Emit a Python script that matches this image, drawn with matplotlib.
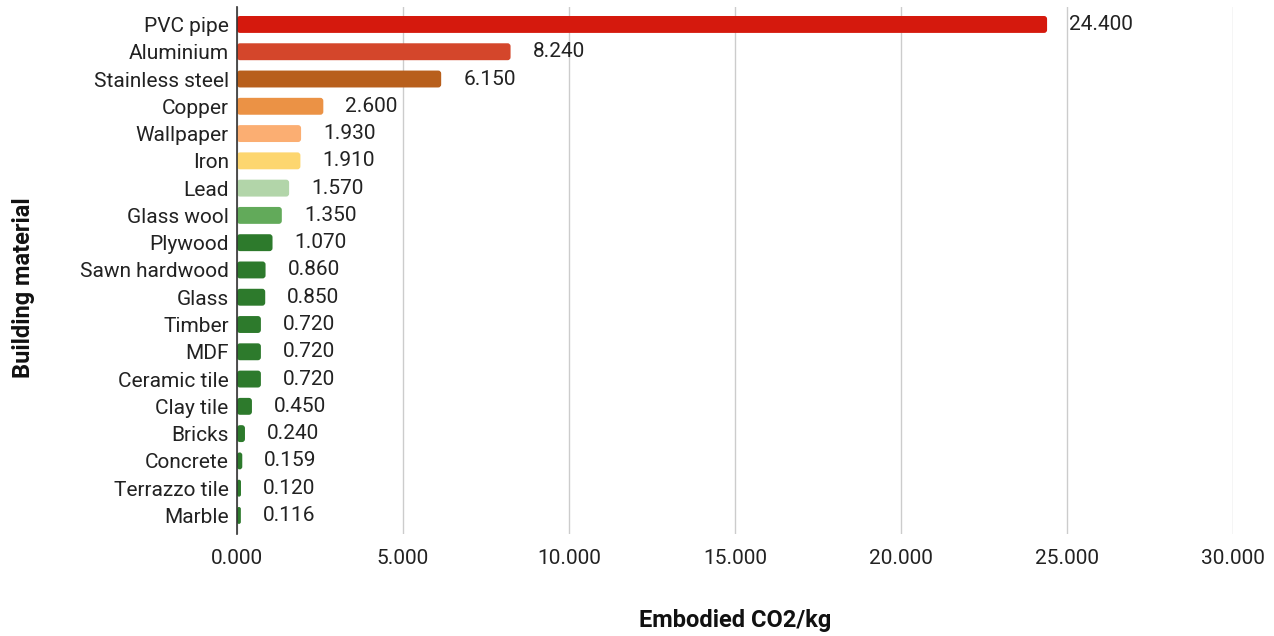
import matplotlib
matplotlib.use("Agg")
import matplotlib.pyplot as plt
from matplotlib.patches import FancyBboxPatch

plt.rcParams['font.family'] = ['Roboto', 'DejaVu Sans']

materials = ["PVC pipe", "Aluminium", "Stainless steel", "Copper", "Wallpaper", "Iron",
             "Lead", "Glass wool", "Plywood", "Sawn hardwood", "Glass", "Timber", "MDF",
             "Ceramic tile", "Clay tile", "Bricks", "Concrete", "Terrazzo tile", "Marble"]
values = [24.4, 8.24, 6.15, 2.6, 1.93, 1.91, 1.57, 1.35, 1.07, 0.86, 0.85, 0.72, 0.72,
          0.72, 0.45, 0.24, 0.159, 0.12, 0.116]
colors = ["#D5190D", "#D4462B", "#B85F1C", "#EB9245", "#FBAE72", "#FDD66F", "#B2D5A9",
          "#62AA5A"] + ["#2D7A2C"] * 11
xticks = [0, 5, 10, 15, 20, 25, 30]

fig = plt.figure(figsize=(12.74, 6.36), dpi=100)
ax = fig.add_axes([237/1274, 1-534/636, (1233-237)/1274, (534-7)/636])

ypos = list(range(len(materials)))
bars = ax.barh(ypos, values, height=0.62, color=colors, linewidth=0, zorder=3)
# replace with slightly rounded bars
px_x = 1/33.2
px_y = 1/27.28
for b, c in zip(bars, colors):
    x0, y0 = b.get_x(), b.get_y()
    w, h = b.get_width(), b.get_height()
    r = min(3*px_x, w/2)
    p = FancyBboxPatch((x0, y0), w, h, boxstyle=f"round,pad=0,rounding_size={r}",
                       mutation_aspect=px_y/px_x, facecolor=c, edgecolor='none', zorder=3)
    b.set_visible(False)
    ax.add_patch(p)

for y, v in zip(ypos, values):
    ax.text(v + 22*px_x, y, f"{v:.3f}", va='center', ha='left', fontsize=15, color='#222222')

ax.set_xlim(0, 30)
ax.set_ylim(18 + 0.68, -0.64)
ax.set_xticks(xticks)
ax.set_xticklabels([f"{t:.3f}" for t in xticks], fontsize=15, color='#222222')
ax.set_yticks(ypos)
ax.set_yticklabels(materials, fontsize=15, color='#222222')
ax.tick_params(axis='both', length=0)
ax.tick_params(axis='y', pad=6)
ax.tick_params(axis='x', pad=11)
ax.grid(axis='x', color='#CCCCCC', linewidth=1, zorder=0)
for s in ['top', 'right', 'bottom']:
    ax.spines[s].set_visible(False)
ax.spines['left'].set_color('#333333')
ax.spines['left'].set_linewidth(1.2)
ax.spines['left'].set_zorder(4)

fig.text(735/1274, 1-621/636, "Embodied CO2/kg", fontsize=17, fontweight='bold',
         ha='center', va='center', color='#111111')
fig.text(24/1274, 1-288/636, "Building material", rotation=90, fontsize=17,
         fontweight='bold', ha='center', va='center', color='#111111')

fig.savefig("out.png", dpi=100)
